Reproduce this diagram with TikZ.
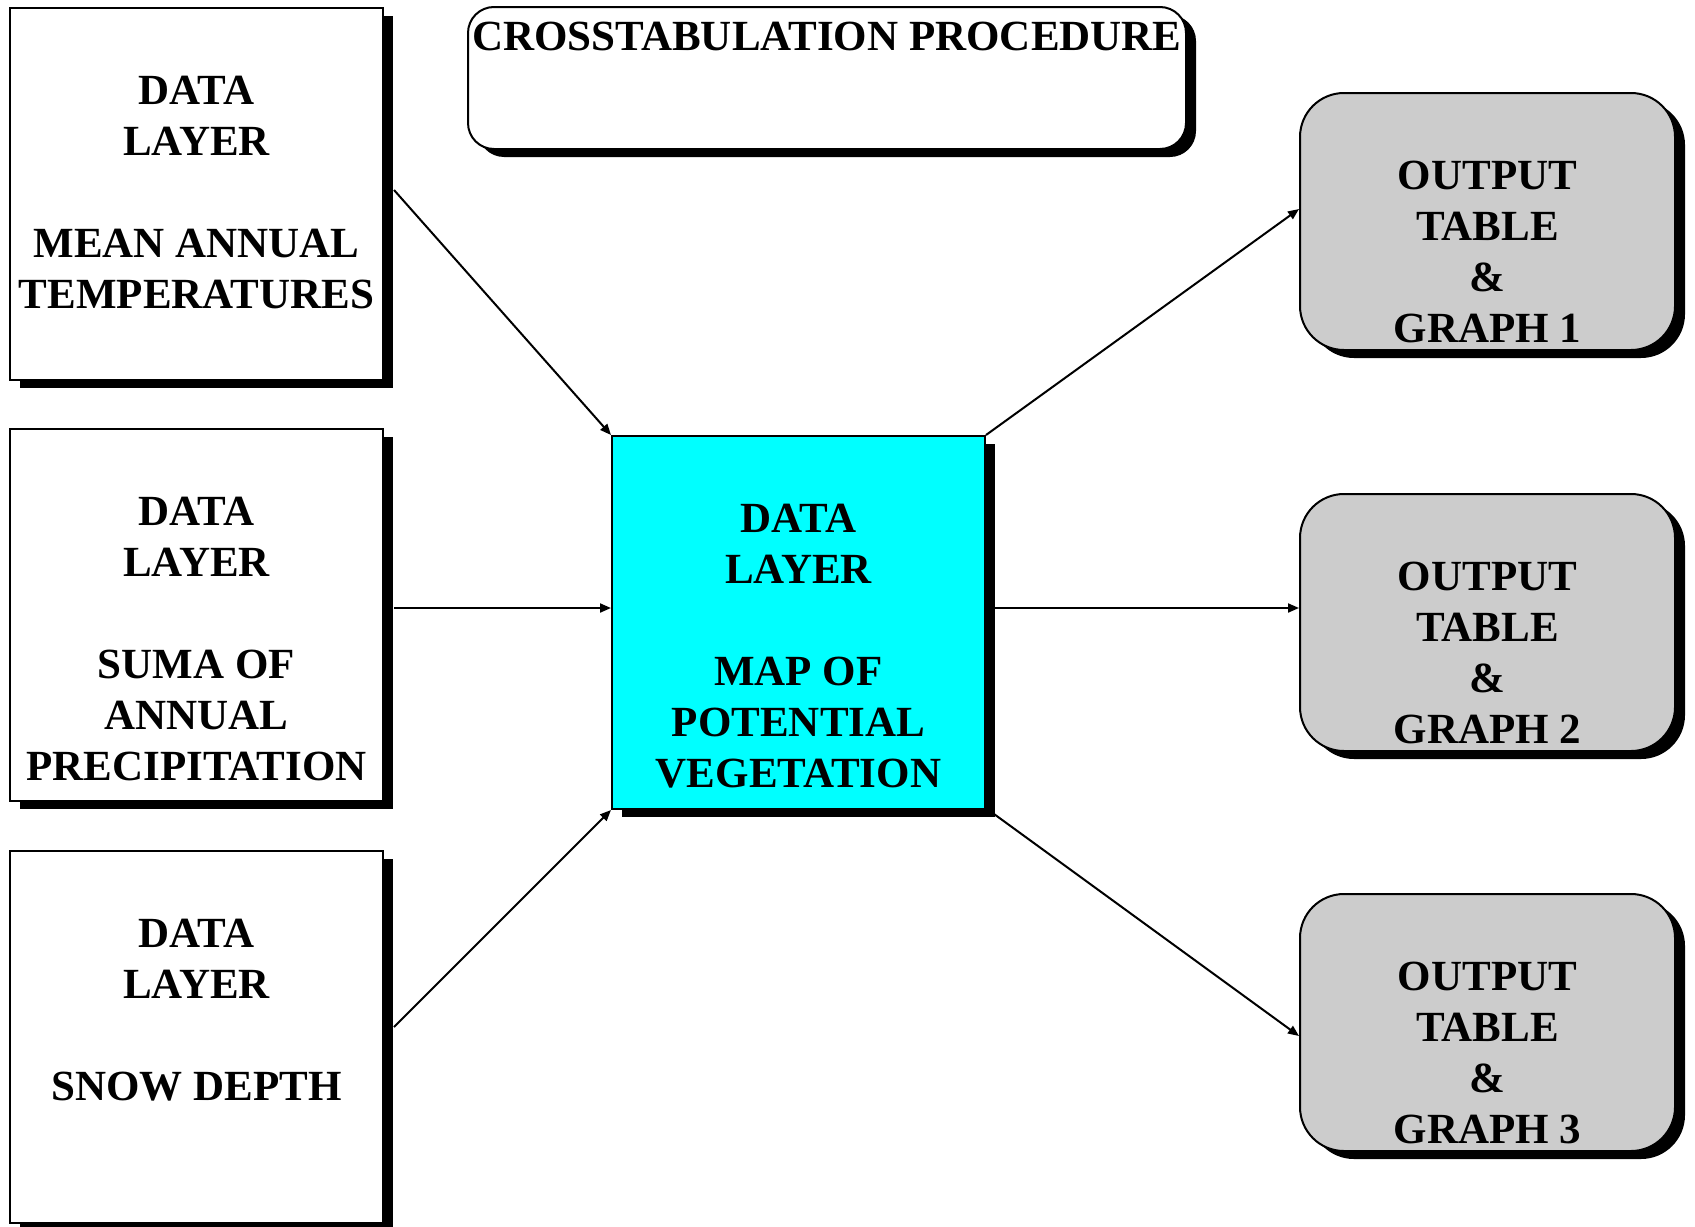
\documentclass[tikz,border=0pt]{standalone}
\usepackage{fontspec}
\setmainfont{Liberation Serif}
\usetikzlibrary{shadows,arrows.meta,calc}
\definecolor{outgray}{RGB}{204,204,204}
\definecolor{cyanbox}{RGB}{0,255,255}
\begin{document}
\begin{tikzpicture}[x=0.5pt,y=-0.5pt,
  shad/.style={drop shadow={shadow xshift=5pt,shadow yshift=-4pt,fill=black,opacity=1}},
  inbox/.style={draw=black,line width=1pt,fill=white,minimum width=186.5pt,minimum height=186pt,inner sep=0pt,shad},
  centerbox/.style={draw=black,line width=1pt,fill=cyanbox,minimum width=186.5pt,minimum height=186.5pt,inner sep=0pt,shad},
  outbox/.style={draw=black,line width=1pt,fill=outgray,rounded corners=22pt,minimum width=187.5pt,minimum height=128.5pt,inner sep=0pt,shad},
  titlebox/.style={draw=black,line width=1pt,fill=white,rounded corners=13pt,minimum width=359pt,minimum height=71pt,inner sep=0pt,shad},
  txt/.style={anchor=north,inner sep=0pt,align=center,font=\fontsize{21.5}{25.5}\selectfont\bfseries},
  titletxt/.style={anchor=north,inner sep=0pt,font=\fontsize{21.5}{25}\selectfont\bfseries},
  conn/.style={line width=1pt,-{Triangle[length=5.5pt,width=4.5pt]}}
]
\useasboundingbox (0,0) rectangle (1695,1226);

% title
\node[titlebox] (title) at (827,78) {};
\node[titletxt] (titlet) at ($(title.north)+(0,16)$) {CROSSTABULATION PROCEDURE};

% input boxes
\node[inbox] (b1) at (196.5,193.5) {};
\node[txt] (t1) at ($(b1.north)+(0,69)$) {DATA\\LAYER\\[25.5pt]MEAN ANNUAL\\TEMPERATURES};
\node[inbox] (b2) at (196.5,615) {};
\node[txt] (t2) at ($(b2.north)+(0,69)$) {DATA\\LAYER\\[25.5pt]SUMA OF\\ANNUAL\\PRECIPITATION};
\node[inbox] (b3) at (196.5,1037) {};
\node[txt] (t3) at ($(b3.north)+(0,69)$) {DATA\\LAYER\\[25.5pt]SNOW DEPTH};

% center box
\node[centerbox] (c) at (798.5,622.5) {};
\node[txt] (tc) at ($(c.north)+(0,69)$) {DATA\\LAYER\\[25.5pt]MAP OF\\POTENTIAL\\VEGETATION};

% output boxes
\node[outbox] (o1) at (1487.5,221.5) {};
\node[txt] (to1) at ($(o1.north)+(0,69)$) {OUTPUT\\TABLE\\\&\\GRAPH 1};
\node[outbox] (o2) at (1487.5,622.5) {};
\node[txt] (to2) at ($(o2.north)+(0,69)$) {OUTPUT\\TABLE\\\&\\GRAPH 2};
\node[outbox] (o3) at (1487.5,1022.5) {};
\node[txt] (to3) at ($(o3.north)+(0,69)$) {OUTPUT\\TABLE\\\&\\GRAPH 3};

% connectors
\draw[conn] ($(b1.east)+(10,-3.5)$) -- (c.north west);
\draw[conn] ($(b2.east)+(10,-7)$) -- ($(c.west)+(0,-14.5)$);
\draw[conn] ($(b3.east)+(10,-10)$) -- (c.south west);
\draw[conn] (c.north east) -- ($(o1.west)+(0,-12.5)$);
\draw[conn] ($(c.east)+(8,-14.5)$) -- ($(o2.west)+(0,-14.5)$);
\draw[conn] ($(c.south east)+(8,4)$) -- ($(o3.west)+(0,13.5)$);
\end{tikzpicture}
\end{document}
